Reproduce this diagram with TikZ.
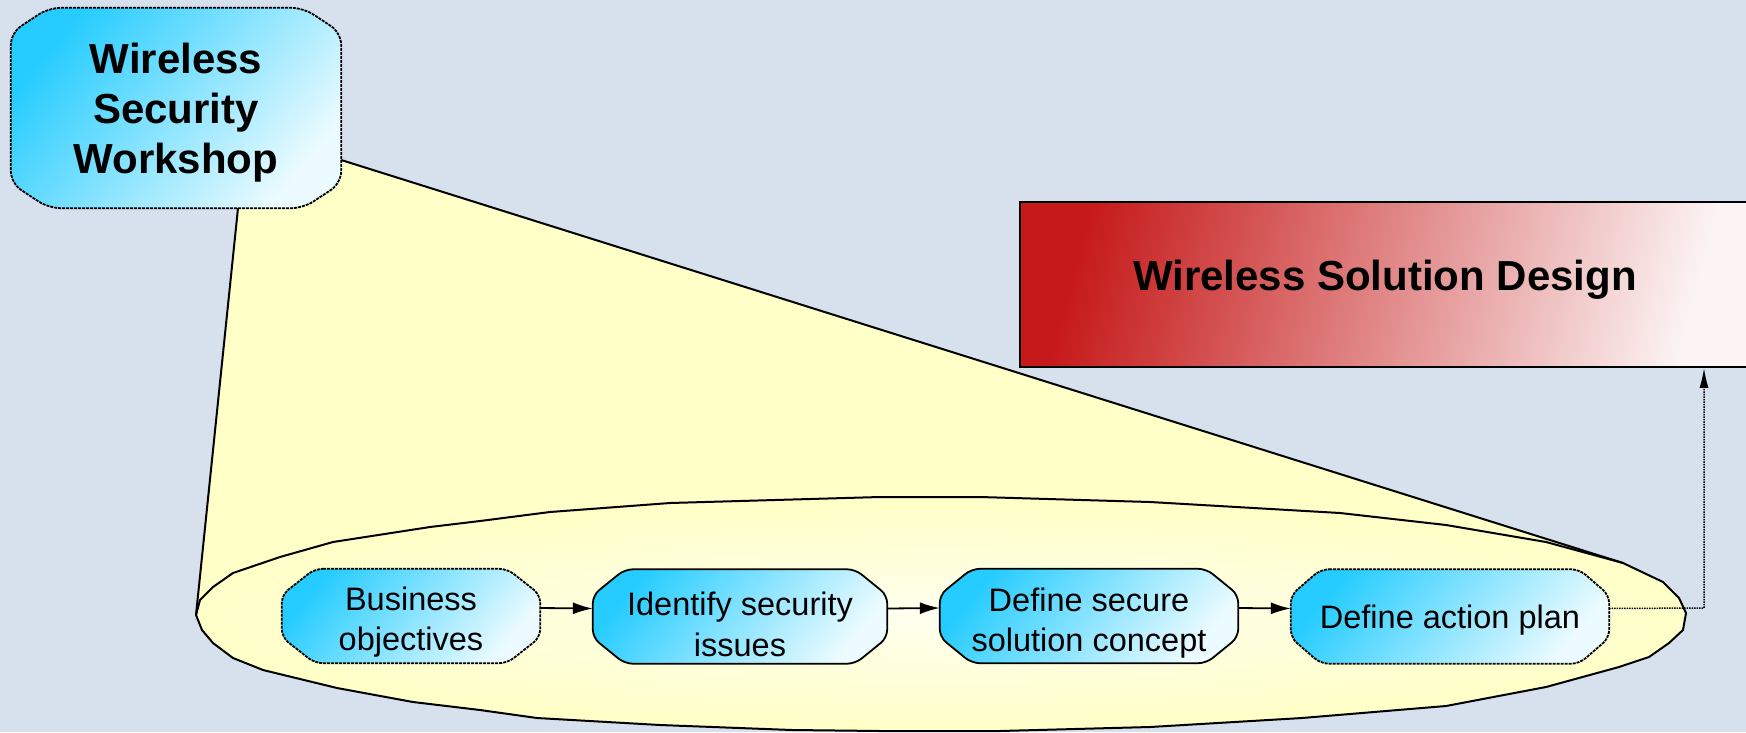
\documentclass[tikz,border=0pt]{standalone}
\usepackage{fontspec}
\setmainfont{Liberation Sans}
\usetikzlibrary{arrows.meta,calc}

\definecolor{bgcol}{RGB}{214,225,237}
\definecolor{cone}{RGB}{255,255,200}
\definecolor{glow}{RGB}{255,255,240}
\definecolor{cyanA}{RGB}{38,204,255}
\definecolor{cyanB}{RGB}{236,251,255}
\definecolor{redA}{RGB}{198,26,26}
\definecolor{redB}{RGB}{252,244,244}

\pgfdeclarelayer{back}
\pgfdeclarelayer{mid}
\pgfsetlayers{back,mid,main}

% chamfered outline around a named node: #1 node, #2 x cut, #3 y cut, #4 style
\newcommand\chamfer[4]{%
  \path[#4] ([xshift=#2]#1.north west) -- ([xshift=-#2]#1.north east)
    -- ([yshift=-#3]#1.north east) -- ([yshift=#3]#1.south east)
    -- ([xshift=-#2]#1.south east) -- ([xshift=#2]#1.south west)
    -- ([yshift=#3]#1.south west) -- ([yshift=-#3]#1.north west) -- cycle;}

\tikzset{
  outline/.style={draw=black, line width=1.8pt},
  dotline/.style={dash pattern=on 3pt off 1pt},
  edge/.style={line width=2pt, line join=round},
  flow/.style={line width=1.8pt, -{Latex[length=20pt,width=12pt]}},
  feed/.style={line width=1.5pt, densely dotted, -{Latex[length=20pt,width=9pt]}},
  cyanfill/.style={top color=cyanA, bottom color=cyanB, shading angle=50},
  procbox/.style={inner sep=0pt, minimum height=94pt},
  proctext/.style={inner sep=0pt, align=center,
    font=\fontsize{32.5}{40.5}\selectfont},
  bigtext/.style={inner sep=0pt, align=center,
    font=\fontsize{42}{50}\selectfont\bfseries},
}

\begin{document}
\begin{tikzpicture}[x=1pt,y=-1pt]
\useasboundingbox (0,0) rectangle (1746,732);

% boxes
\node[inner sep=0pt, minimum width=330pt, minimum height=200pt] (ws) at (176,108) {};
\node[inner sep=0pt, minimum width=730pt, minimum height=165pt, draw=black,
  line width=1.8pt, top color=redA, bottom color=redB, shading angle=75]
  (sd) at (1385,284.5) {};
\node[procbox, minimum width=258pt] (n1) at (411,616) {};
\node[procbox, minimum width=294pt] (n2) at (740,616.5) {};
\node[procbox, minimum width=298pt] (n3) at (1089,616) {};
\node[procbox, minimum width=318pt] (n4) at (1450,616.5) {};

% box texts
\node[bigtext, yshift=-5pt] (wst) at (ws) {Wireless\\Security\\Workshop};
\node[bigtext, yshift=5pt] (sdt) at (sd) {Wireless Solution Design};
\node[proctext, yshift=-6pt] (n1t) at (n1) {Business\\objectives};
\node[proctext, yshift=-8pt] (n2t) at (n2) {Identify security\\issues};
\node[proctext, yshift=-7pt] (n3t) at (n3) {Define secure\\solution concept};
\node[proctext, yshift=-4pt] (n4t) at (n4) {Define action plan};

% tips of the lens and the cone's contact point on it
\coordinate (lt) at (196,615);
\coordinate (rt) at (1686,613);
\coordinate (cr) at (1623,563);
\coordinate (bend) at (1704,608);

\begin{pgfonlayer}{back}
  \fill[bgcol] (0,0) rectangle (1746,732);
  % cone from the workshop box down to the lens
  \fill[cone] ([xshift=62pt]ws.south) -- ([yshift=-52pt]ws.east) -- (cr)
    -- (rt) -- (lt) -- cycle;
  \def\lens{(lt) -- (200,600) -- (213,587) -- (233,573) -- (280,557)
    -- (333,542) -- (430,527) -- (480,521) -- (550,512) -- (670,503)
    -- (880,497) -- (980,497) -- (1150,502) -- (1340,513) -- (1446,525)
    -- (1546,542) -- (cr) -- (1663,582) -- (1679,598) -- (rt)
    -- (1683,630) -- (1669,643) -- (1649,657) -- (1619,667) -- (1546,687)
    -- (1446,706) -- (1302,718) -- (1150,727) -- (1000,731) -- (880,731)
    -- (792,730) -- (660,725) -- (537,718) -- (480,710) -- (413,702)
    -- (337,688) -- (263,670) -- (233,658) -- (213,643) -- (202,630) -- cycle}
  \fill[cone] \lens;
  \begin{scope}
    \clip \lens;
    \shade[inner color=glow, outer color=cone] (940,616) ellipse [x radius=760, y radius=110];
  \end{scope}
  \draw[edge] \lens;
  \draw[edge] ([xshift=62pt]ws.south) -- (lt);
  \draw[edge] ([yshift=-52pt]ws.east) -- (cr);
\end{pgfonlayer}

\begin{pgfonlayer}{mid}
  \chamfer{ws}{38pt}{25pt}{cyanfill, outline, dotline, rounded corners=12pt}
  \chamfer{n1}{33pt}{26pt}{cyanfill, outline, dotline, rounded corners=8pt}
  \chamfer{n2}{32pt}{26pt}{cyanfill, outline, rounded corners=8pt}
  \chamfer{n3}{32pt}{26pt}{cyanfill, outline, rounded corners=8pt}
  \chamfer{n4}{30pt}{26pt}{cyanfill, outline, dotline, rounded corners=8pt}
\end{pgfonlayer}

% process flow
\draw[flow] ([yshift=8pt]n1.east) -- ([yshift=8pt]n2.west);
\draw[flow] ([yshift=8pt]n2.east) -- ([yshift=8pt]n3.west);
\draw[flow] ([yshift=8pt]n3.east) -- ([yshift=8pt]n4.west);
\draw[feed] ([yshift=8pt]n4.east) -- (bend) -- (bend |- sd.south);
\end{tikzpicture}
\end{document}
